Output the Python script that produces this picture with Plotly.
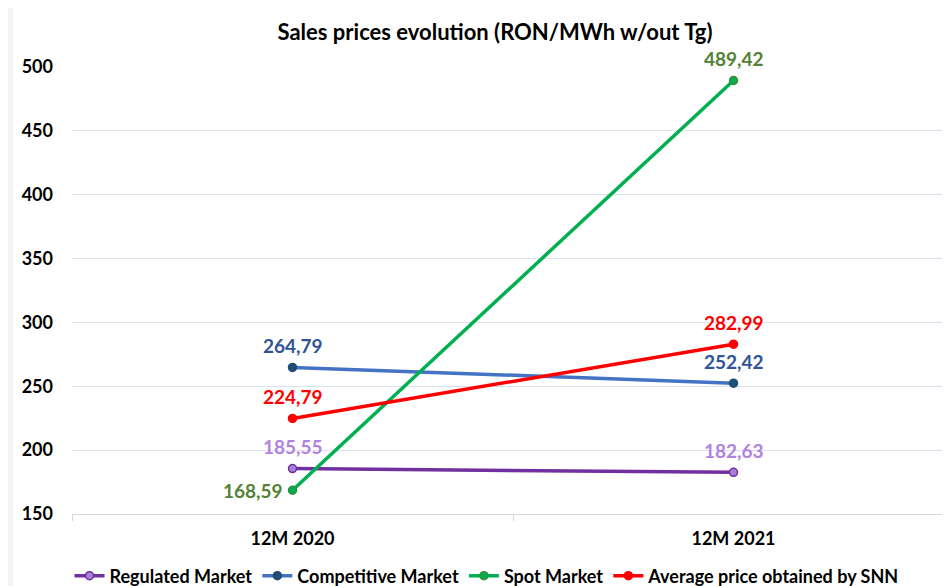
import plotly.graph_objects as go

categories = ["12M 2020", "12M 2021"]
regulated = [185.55, 182.63]
competitive = [264.79, 252.42]
spot = [168.59, 489.42]
average = [224.79, 282.99]
y_ticks = [150, 200, 250, 300, 350, 400, 450, 500]

FONT = "Lato"

fig = go.Figure()

def fmt(v):
    return f"{v:.2f}".replace(".", ",")

def add(name, y, line_color, marker_fill, marker_line, text_color, sides):
    fig.add_trace(go.Scatter(
        x=categories, y=y, name=name, mode="lines+markers",
        line=dict(color=line_color, width=3.5),
        marker=dict(size=8, color=marker_fill, line=dict(color=marker_line, width=1.5)),
        cliponaxis=False,
    ))
    for c, v, side in zip(categories, y, sides):
        if side == "left":
            fig.add_annotation(x=c, y=v, text=f"<b>{fmt(v)}</b>", showarrow=False,
                               xanchor="right", yanchor="middle", xshift=-8,
                               font=dict(family=FONT, size=19, color=text_color))
        else:
            fig.add_annotation(x=c, y=v, text=f"<b>{fmt(v)}</b>", showarrow=False,
                               xanchor="center", yanchor="middle", yshift=22,
                               font=dict(family=FONT, size=19, color=text_color))

add("Regulated Market", regulated, "#7030A0", "#A77FD9", "#7030A0", "#B083DC", ["top", "top"])
add("Competitive Market", competitive, "#4472C4", "#1F4E79", "#1F4E79", "#2F5597", ["top", "top"])
add("Spot Market", spot, "#00B050", "#00B050", "#3C8A3C", "#548235", ["left", "top"])
add("Average price obtained by SNN", average, "#FF0000", "#FF0000", "#FF0000", "#FF0000", ["top", "top"])

# page body has an 8px margin, so the figure is offset by 8px
OFF = 8
W, H = 950, 586 - OFF
L, R, T, B = 72 - OFF, 0, 67 - OFF, 586 - 514
pw, ph = W - L - R, H - T - B
CAT_W = 441  # pixel width of one category band

fig.add_shape(type="rect", xref="paper", yref="paper",
              x0=(13 - OFF - L) / pw, x1=1.01, y0=-(B + 5) / ph, y1=(H - B + 5) / ph,
              fillcolor="white", line=dict(width=0), layer="below")

fig.update_layout(
    width=W, height=H,
    margin=dict(l=L, r=R, t=T, b=B, autoexpand=False),
    paper_bgcolor="#F4F4F4", plot_bgcolor="white",
    font=dict(family=FONT, size=15, color="black"),
    title=dict(text="<b>Sales prices evolution (RON/MWh w/out Tg)</b>",
               x=(495 - OFF) / W, xanchor="center", y=1 - (32 - OFF) / H, yanchor="middle",
               yref="container",
               font=dict(family=FONT, size=22, color="black")),
    showlegend=True,
    legend=dict(orientation="h", x=(487 - OFF) / W, xref="container", xanchor="center",
                y=1 - (576 - OFF) / H, yref="container", yanchor="middle",
                font=dict(family=FONT, size=18, color="black", weight="bold"),
                bgcolor="rgba(0,0,0,0)", itemwidth=30, tracegroupgap=0),
    xaxis=dict(type="category", range=[-0.5, -0.5 + pw / CAT_W], showgrid=False,
               showline=True, linecolor="#D9D9D9", linewidth=1,
               ticks="outside", tickson="boundaries", ticklen=6, tickcolor="#D9D9D9",
               tickfont=dict(family=FONT, size=18, color="black", weight="bold"),
               ticklabelstandoff=8, zeroline=False, automargin=False),
    yaxis=dict(range=[150, 500], tickvals=y_ticks, showgrid=True, gridcolor="#D9E1F2",
               gridwidth=1, zeroline=False, showline=False, ticks="",
               tickfont=dict(family=FONT, size=18, color="black", weight="bold"),
               ticklabelstandoff=18, automargin=False),
)

fig.write_html("out.html")
